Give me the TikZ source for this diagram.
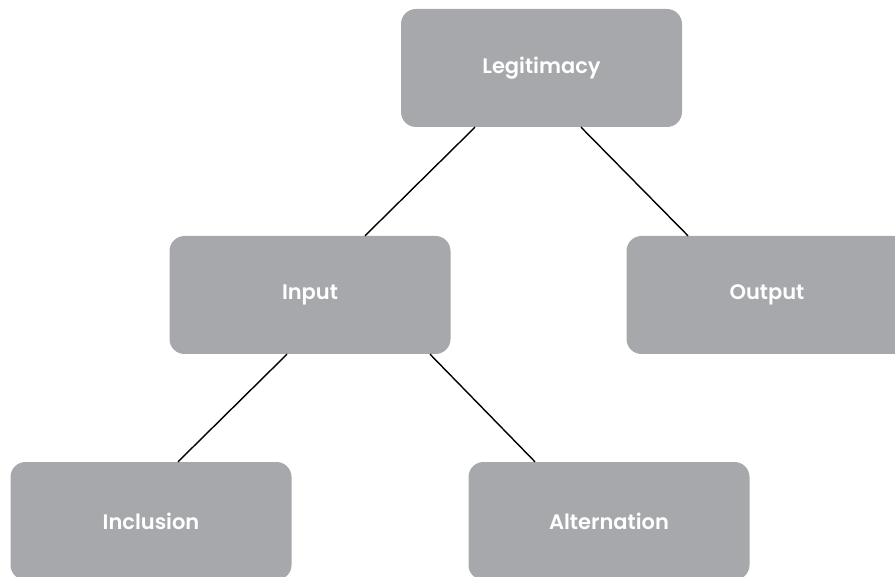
\documentclass[tikz,border=0pt]{standalone}
\usepackage{fontspec}
\setsansfont{Poppins}[UprightFont=*-Regular,BoldFont=*-SemiBold]
\usepackage{tikz}
\usetikzlibrary{positioning}
\definecolor{boxgrey}{HTML}{A7A8AB}
\tikzset{
  treebox/.style={fill=boxgrey, rounded corners=15pt, minimum width=281pt, minimum height=118pt, inner sep=0pt, text=white, font=\sffamily\bfseries\fontsize{21}{25}\selectfont},
  treeline/.style={line width=1.4pt, black}
}

\begin{document}
\begin{tikzpicture}[x=1pt, y=-1pt]
  \useasboundingbox (0,0) rectangle (895,577);
  \begin{scope}
  \clip (0,0) rectangle (895,577);
  \node[treebox] (legit) at (541.5,68) {Legitimacy};
  \node[treebox] (input) at (310,295) {Input};
  \node[treebox] (output) at (767,295) {Output};
  \node[treebox] (incl) at (151,521) {Inclusion};
  \node[treebox] (alter) at (609,521) {Alternation};
  \end{scope}

  \draw[treeline] ([xshift=-66.5pt]legit.south) -- ([xshift=55pt]input.north);
  \draw[treeline] ([xshift=39.5pt]legit.south) -- ([xshift=-79pt]output.north);
  \draw[treeline] ([xshift=-23pt]input.south) -- ([xshift=27pt]incl.north);
  \draw[treeline] ([xshift=120pt]input.south) -- ([xshift=-74pt]alter.north);
\end{tikzpicture}
\end{document}
